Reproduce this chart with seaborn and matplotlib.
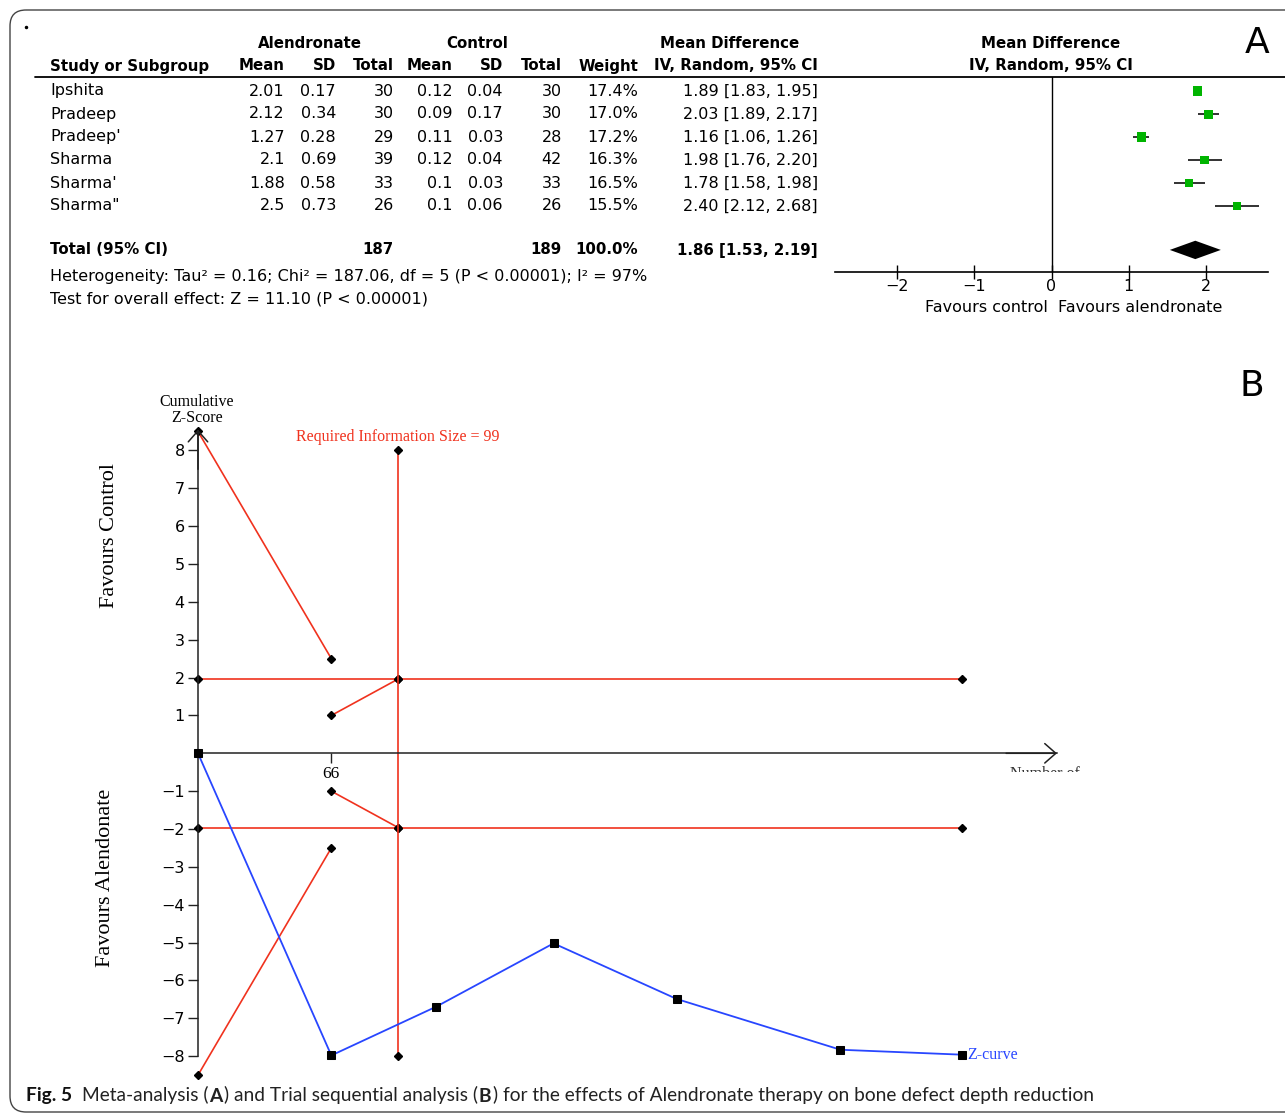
import numpy as np
import pandas as pd
import seaborn as sns
import matplotlib.pyplot as plt
from matplotlib.patches import FancyBboxPatch, Rectangle

sns.set_style("white")
plt.rcParams['font.family'] = ['DejaVu Sans']
plt.rcParams['text.color'] = 'black'
plt.rcParams['xtick.color'] = 'black'
plt.rcParams['ytick.color'] = 'black'
SERIF = ['Liberation Serif', 'DejaVu Serif']

W, H = 1285, 1115

# panel A: meta-analysis table
studies = ["Ipshita", "Pradeep", "Pradeep'", "Sharma", "Sharma'", 'Sharma"']
alen_mean = [2.01, 2.12, 1.27, 2.1, 1.88, 2.5]
alen_sd = [0.17, 0.34, 0.28, 0.69, 0.58, 0.73]
alen_n = [30, 30, 29, 39, 33, 26]
ctrl_mean = [0.12, 0.09, 0.11, 0.12, 0.1, 0.1]
ctrl_sd = [0.04, 0.17, 0.03, 0.04, 0.03, 0.06]
ctrl_n = [30, 30, 28, 42, 33, 26]
weight = [17.4, 17.0, 17.2, 16.3, 16.5, 15.5]
md = [1.89, 2.03, 1.16, 1.98, 1.78, 2.40]
ci_lo = [1.83, 1.89, 1.06, 1.76, 1.58, 2.12]
ci_hi = [1.95, 2.17, 1.26, 2.20, 1.98, 2.68]
md_total, lo_total, hi_total = 1.86, 1.53, 2.19
alen_total, ctrl_total = 187, 189
forest_ticks = [-2, -1, 0, 1, 2]

# panel B: trial sequential analysis
z_info = [0, 66, 118, 176, 237, 318, 378]
z_score = [0, -7.98, -6.69, -5.02, -6.49, -7.83, -7.96]
upper_x, upper_y = [0, 66], [8.5, 2.5]
upper2_x, upper2_y = [66, 99], [1.0, 1.96]
conv_x = [0, 99, 378]
conv_z = 1.96
ris = 99
z_ticks = [-8, -7, -6, -5, -4, -3, -2, -1, 1, 2, 3, 4, 5, 6, 7, 8]

RED = '#f0321e'
BLUE = '#2846ff'
GREEN = '#00b400'


def px_rect(x0, y0, x1, y1):
    return [x0 / W, 1 - y1 / H, (x1 - x0) / W, (y1 - y0) / H]


fig = plt.figure(figsize=(W / 100, H / 100), dpi=100)
ax0 = fig.add_axes([0, 0, 1, 1], zorder=5)
ax0.set_xlim(0, W)
ax0.set_ylim(H, 0)
ax0.axis('off')

# frame
ax0.add_patch(FancyBboxPatch((10, 10), 1320, 1102, boxstyle="round,pad=0,rounding_size=16",
                             fill=False, ec='#444444', lw=1))
ax0.plot([26], [27], marker='o', ms=1.5, color='k')

# ---- table ----
fb = 10.8   # bold text
fs = 11.5   # regular text
ax0.text(310, 43, "Alendronate", ha='center', va='center', fontsize=fb, fontweight='bold')
ax0.text(477, 43, "Control", ha='center', va='center', fontsize=fb, fontweight='bold')
ax0.text(730, 43, "Mean Difference", ha='center', va='center', fontsize=fb, fontweight='bold')
ax0.text(1051, 43, "Mean Difference", ha='center', va='center', fontsize=fb, fontweight='bold')
ax0.text(1051, 66, "IV, Random, 95% CI", ha='center', va='center', fontsize=fb, fontweight='bold')
ax0.text(50, 66, "Study or Subgroup", ha='left', va='center', fontsize=fb, fontweight='bold')
cols = [285, 336, 394, 453, 503, 562, 638, 818]
heads = ["Mean", "SD", "Total", "Mean", "SD", "Total", "Weight", "IV, Random, 95% CI"]
for x, h in zip(cols, heads):
    ax0.text(x, 66, h, ha='right', va='center', fontsize=fb, fontweight='bold')
ax0.plot([35, W], [77, 77], color='k', lw=1.3)

for i, name in enumerate(studies):
    y = 91 + 23 * i
    vals = [f"{alen_mean[i]}", f"{alen_sd[i]:.2f}", f"{alen_n[i]}",
            f"{ctrl_mean[i]}", f"{ctrl_sd[i]:.2f}", f"{ctrl_n[i]}",
            f"{weight[i]:.1f}%", f"{md[i]:.2f} [{ci_lo[i]:.2f}, {ci_hi[i]:.2f}]"]
    ax0.text(50, y, name, ha='left', va='center', fontsize=fs)
    for x, v in zip(cols, vals):
        ax0.text(x, y, v, ha='right', va='center', fontsize=fs)

ax0.text(50, 250, "Total (95% CI)", ha='left', va='center', fontsize=fb, fontweight='bold')
for x, v in zip([394, 562, 638, 818],
                [f"{alen_total}", f"{ctrl_total}", "100.0%",
                 f"{md_total:.2f} [{lo_total:.2f}, {hi_total:.2f}]"]):
    ax0.text(x, 250, v, ha='right', va='center', fontsize=fb, fontweight='bold')
ax0.text(50, 276, "Heterogeneity: Tau\u00b2 = 0.16; Chi\u00b2 = 187.06, df = 5 (P < 0.00001); I\u00b2 = 97%",
         ha='left', va='center', fontsize=fs)
ax0.text(50, 299, "Test for overall effect: Z = 11.10 (P < 0.00001)", ha='left', va='center', fontsize=fs)
ax0.text(1048, 307, "Favours control", ha='right', va='center', fontsize=fs)
ax0.text(1058, 307, "Favours alendronate", ha='left', va='center', fontsize=fs)
ax0.text(1257, 43, "A", ha='center', va='center', fontsize=26)
ax0.text(1252, 386, "B", ha='center', va='center', fontsize=26)

# ---- forest plot ----
ax1 = fig.add_axes(px_rect(835, 77, 1268, 272))
ax1.patch.set_alpha(0)
rows = list(range(len(studies)))
total_row = 6.91
ax1.hlines(rows, ci_lo, ci_hi, color='#222222', lw=1.3)
forest_df = pd.DataFrame({"md": md, "row": rows, "w": weight})
sns.scatterplot(data=forest_df, x="md", y="row", size="w", sizes=(34, 44), marker='s',
                color=GREEN, edgecolor='none', legend=False, ax=ax1, zorder=3)
ax1.fill([lo_total, md_total, hi_total, md_total],
         [total_row, total_row - 0.4, total_row, total_row + 0.4], color='k', lw=0)
ax1.axvline(0, color='k', lw=1)
ax1.set_xlim(-2.8, 2.8)
ax1.set_ylim(7.87, -0.61)
for s in ['left', 'top', 'right']:
    ax1.spines[s].set_visible(False)
ax1.spines['bottom'].set_color('k')
ax1.spines['bottom'].set_linewidth(1.2)
ax1.set_xticks(forest_ticks)
ax1.set_xticklabels([str(t).replace('-', '\u2212') for t in forest_ticks])
ax1.set_yticks([])
ax1.tick_params(axis='x', bottom=True, direction='inout', length=10, width=1,
                labelsize=fs, pad=0, color='k')
ax1.set_xlabel("")
ax1.set_ylabel("")

# ---- trial sequential analysis ----
y0px, ypu = 753.3, 37.86
ylo, yhi = -8.6, 8.6
ax2 = fig.add_axes(px_rect(198, y0px - yhi * ypu, 1057, y0px - ylo * ypu))
ax2.patch.set_alpha(0)
ax2.set_xlim(0, 425.2)
ax2.set_ylim(ylo, yhi)

lk = dict(color=RED, lw=1.2, marker='D', ms=4.5, mfc='k', mec='k', clip_on=False)
ax2.plot(upper_x, upper_y, **lk)
ax2.plot(upper2_x, upper2_y, **lk)
ax2.plot(upper_x, [-v for v in upper_y], **lk)
ax2.plot(upper2_x, [-v for v in upper2_y], **lk)
ax2.plot(conv_x, [conv_z] * len(conv_x), **lk)
ax2.plot(conv_x, [-conv_z] * len(conv_x), **lk)
ax2.plot([ris, ris], [-8, 8], **lk)

sns.lineplot(x=z_info, y=z_score, sort=False, color=BLUE, lw=1.3, marker='s', ms=5.5,
             mfc='k', mec='k', ax=ax2, zorder=4)
for ln in ax2.lines:
    ln.set_clip_on(False)

for s in ['top', 'right']:
    ax2.spines[s].set_visible(False)
ax2.spines['left'].set_position(('data', 0))
ax2.spines['left'].set_bounds(-8, 8.5)
ax2.spines['bottom'].set_position(('data', 0))
ax2.spines['bottom'].set_bounds(0, 425.2)
for s in ['left', 'bottom']:
    ax2.spines[s].set_color('#222222')
    ax2.spines[s].set_linewidth(1.1)
ax2.set_yticks(z_ticks)
ax2.set_yticklabels([str(t).replace('-', '\u2212') for t in z_ticks])
ax2.set_xticks([66])
ax2.set_xticklabels(["66"], family=SERIF)
ax2.tick_params(axis='y', left=True, direction='out', length=7.5, width=1, labelsize=11.5,
                pad=2, color='#222222')
ax2.tick_params(axis='x', bottom=True, direction='out', length=7, width=1, labelsize=12.5,
                pad=2, color='#222222')

arrow = dict(arrowstyle='->,head_length=0.57,head_width=0.5', lw=1.1, color='#222222',
             shrinkA=0, shrinkB=0, mutation_scale=14)
ax2.annotate('', xy=(0, 8.55), xytext=(0, 7.5), arrowprops=arrow, annotation_clip=False)
ax2.annotate('', xy=(425.2, 0), xytext=(400, 0), arrowprops=arrow, annotation_clip=False)

ax2.annotate(f"Required Information Size = {ris}", xy=(ris, 8), xytext=(0, 9.5),
             textcoords='offset points', ha='center', va='center', color=RED,
             fontsize=11.5, family=SERIF)
ax2.annotate("Z-curve", xy=(z_info[-1], z_score[-1]), xytext=(4, 0),
             textcoords='offset points', ha='left', va='center', color=BLUE,
             fontsize=11.5, family=SERIF)

ax0.text(197, 410, "Cumulative\nZ-Score", ha='center', va='center', fontsize=11.5,
         family=SERIF, linespacing=1.0)
ax0.text(110, 535, "Favours Control", ha='center', va='center', rotation=90,
         fontsize=16, family=SERIF)
ax0.text(106, 878, "Favours Alendonate", ha='center', va='center', rotation=90,
         fontsize=16, family=SERIF)
ax0.text(1010, 766, "Number of", ha='left', va='top', fontsize=11.5, family=SERIF, color='#333333')
ax0.add_patch(Rectangle((1000, 771.5), 100, 20, fc='white', ec='none', zorder=10))

# ---- caption ----
cap_font = ['Lato', 'DejaVu Sans']
pieces = [("Fig. 5", 'bold'), ("Meta-analysis (", 'normal'), ("A", 'bold'),
          (") and Trial sequential analysis (", 'normal'), ("B", 'bold'),
          (") for the effects of Alendronate therapy on bone defect depth reduction", 'normal')]
gaps = [7, 0.8, 0.8, 0.8, 0.8]
prev = ax0.text(26, 1096, pieces[0][0], ha='left', va='center', fontsize=13.8,
                fontweight='bold', family=cap_font, color='#111111')
for (txt, wt), gap in zip(pieces[1:], gaps):
    prev = ax0.annotate(txt, xy=(1, 0), xycoords=prev, xytext=(gap, 0),
                        textcoords='offset points', ha='left', va='bottom',
                        fontsize=13.8, fontweight=wt, family=cap_font, color='#222222')

fig.savefig("out.png", dpi=100)
